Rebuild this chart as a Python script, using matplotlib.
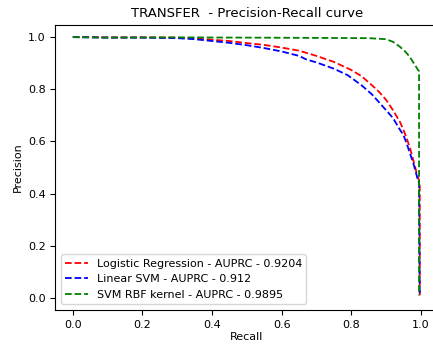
import matplotlib

matplotlib.use("Agg")
import matplotlib.pyplot as plt

# Precision-recall points
lr_recall = [0, 0.05, 0.1, 0.2, 0.3, 0.35, 0.4, 0.45, 0.5, 0.55, 0.6, 0.65, 0.67, 0.7, 0.75,
             0.8, 0.83, 0.86, 0.88, 0.9, 0.92, 0.94, 0.95, 0.96, 0.97, 0.98, 0.99, 0.995, 0.997, 0.997]
lr_precision = [1.0, 1.0, 0.999, 0.999, 0.998, 0.995, 0.99, 0.985, 0.977, 0.97, 0.96, 0.948, 0.94, 0.928, 0.905,
                0.874, 0.85, 0.815, 0.79, 0.76, 0.72, 0.675, 0.645, 0.61, 0.57, 0.52, 0.47, 0.45, 0.44, 0.01]

svm_recall = [0, 0.05, 0.1, 0.2, 0.3, 0.35, 0.4, 0.45, 0.5, 0.55, 0.6, 0.65, 0.67, 0.7, 0.75,
              0.79, 0.83, 0.86, 0.88, 0.9, 0.92, 0.94, 0.95, 0.96, 0.97, 0.98, 0.99, 0.995, 0.997]
svm_precision = [1.0, 0.999, 0.998, 0.998, 0.996, 0.992, 0.985, 0.978, 0.969, 0.958, 0.945, 0.928, 0.915, 0.903, 0.879,
                 0.854, 0.815, 0.78, 0.75, 0.72, 0.69, 0.645, 0.625, 0.59, 0.55, 0.51, 0.46, 0.44, 0.01]

rbf_recall = [0, 0.1, 0.3, 0.5, 0.7, 0.85, 0.9, 0.92, 0.94, 0.955, 0.968, 0.98, 0.992, 0.995, 0.995]
rbf_precision = [1.0, 0.998, 0.999, 0.998, 0.997, 0.996, 0.992, 0.982, 0.963, 0.945, 0.925, 0.9, 0.874, 0.87, 0.01]

labels = [
    "Logistic Regression - AUPRC - 0.9204",
    "Linear SVM - AUPRC - 0.912",
    "SVM RBF kernel - AUPRC - 0.9895",
]

fig = plt.figure(figsize=(4.33, 3.44), dpi=100)
ax = fig.add_axes([0.128, 0.099, 0.884, 0.828])
ax.plot(lr_recall, lr_precision, "r--", lw=1.3, label=labels[0])
ax.plot(svm_recall, svm_precision, "b--", lw=1.3, label=labels[1])
ax.plot(rbf_recall, rbf_precision, "g--", lw=1.3, label=labels[2])
ax.set_xlim(-0.05, 1.05)
ax.set_ylim(-0.046, 1.046)
ax.tick_params(labelsize=8)
ax.set_xlabel("Recall", fontsize=8, labelpad=2)
ax.set_ylabel("Precision", fontsize=8)
ax.set_title("TRANSFER  - Precision-Recall curve", fontsize=9.5)
ax.legend(loc="lower left", fontsize=8)
fig.savefig("out.png", dpi=100)
